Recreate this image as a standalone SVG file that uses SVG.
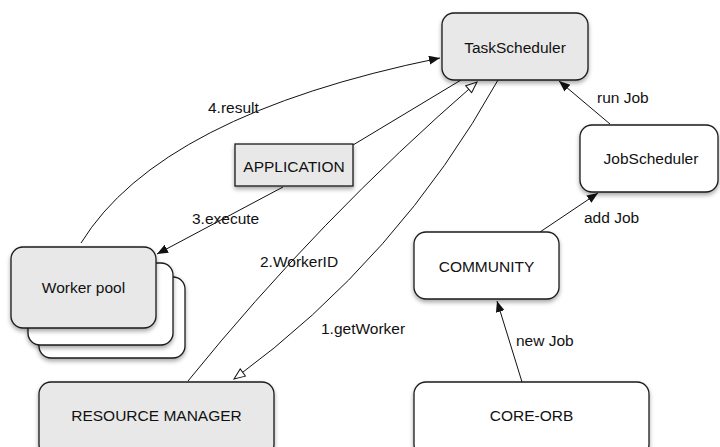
<svg xmlns="http://www.w3.org/2000/svg" width="720" height="447" viewBox="0 0 720 447">
<style>
.box{stroke:#1a1a1a;stroke-width:1.3;filter:url(#sh)}
.grey{fill:#e8e8e8}
.white{fill:#ffffff}
.lbl{font-family:"Liberation Sans",Arial,sans-serif;font-size:15.5px;fill:#111}
.mid{text-anchor:middle}
.con{fill:none;stroke:#111;stroke-width:1}
</style>
<defs>
<filter id="sh" x="-10%" y="-10%" width="130%" height="140%">
<feDropShadow dx="0" dy="2.5" stdDeviation="2" flood-color="#000" flood-opacity="0.35"/>
</filter>
<marker id="fa" markerUnits="userSpaceOnUse" markerWidth="12" markerHeight="10" refX="11" refY="4.5" orient="auto" viewBox="0 0 12 10">
<path d="M0,0 L11,4.5 L0,9 z" fill="#111"/>
</marker>
<marker id="oa" markerUnits="userSpaceOnUse" markerWidth="14" markerHeight="12" refX="12" refY="5" orient="auto" viewBox="0 0 14 12">
<path d="M1,0.5 L12,5 L1,9.5 z" fill="#fff" stroke="#111" stroke-width="1"/>
</marker>
</defs>

<g id="connectors">
<path class="con" d="M81,243 Q160,115 440,58" marker-end="url(#fa)"/>
<path class="con" d="M353,145 L461,80"/>
<path class="con" d="M283,187 L157,254" marker-end="url(#fa)"/>
<path class="con" d="M188,381 Q319,219 477,82" marker-end="url(#oa)"/>
<path class="con" d="M498,80 Q399,258 234,379" marker-end="url(#oa)"/>
<path class="con" d="M610,124 L559,81" marker-end="url(#fa)"/>
<path class="con" d="M540,232 L598,193" marker-end="url(#fa)"/>
<path class="con" d="M522,382 L497,301" marker-end="url(#fa)"/>
</g>

<g id="edge-labels">
<text class="lbl" x="208" y="113">4.result</text>
<text class="lbl" x="192" y="224">3.execute</text>
<text class="lbl" x="260" y="267">2.WorkerID</text>
<text class="lbl" x="321" y="334">1.getWorker</text>
<text class="lbl" x="597" y="103">run Job</text>
<text class="lbl" x="584" y="223">add Job</text>
<text class="lbl" x="516" y="346">new Job</text>
</g>

<g id="TaskScheduler">
<rect class="box grey" x="442" y="13" width="146" height="67" rx="12"/>
<text class="lbl mid" x="515" y="52.5">TaskScheduler</text>
</g>

<g id="JobScheduler">
<rect class="box white" x="580" y="125" width="138" height="67" rx="12"/>
<text class="lbl mid" x="651" y="164">JobScheduler</text>
</g>

<g id="APPLICATION">
<rect class="box grey" x="235" y="144" width="118" height="42"/>
<text class="lbl mid" x="294" y="171.5">APPLICATION</text>
</g>

<g id="WorkerPool">
<rect class="box white" x="39" y="277" width="146" height="81" rx="12"/>
<rect class="box white" x="28" y="263" width="145" height="82" rx="12"/>
<rect class="box grey" x="11" y="247" width="145" height="81" rx="12"/>
<text class="lbl mid" x="83.5" y="293">Worker pool</text>
</g>

<g id="ResourceManager">
<rect class="box grey" x="39" y="382" width="235" height="75" rx="12"/>
<text class="lbl mid" x="156.5" y="421">RESOURCE MANAGER</text>
</g>

<g id="COMMUNITY">
<rect class="box white" x="414" y="232" width="145" height="67" rx="12"/>
<text class="lbl mid" x="486.5" y="271.5">COMMUNITY</text>
</g>

<g id="CORE-ORB">
<rect class="box white" x="414" y="382" width="235" height="75" rx="12"/>
<text class="lbl mid" x="531.5" y="421">CORE-ORB</text>
</g>
</svg>
